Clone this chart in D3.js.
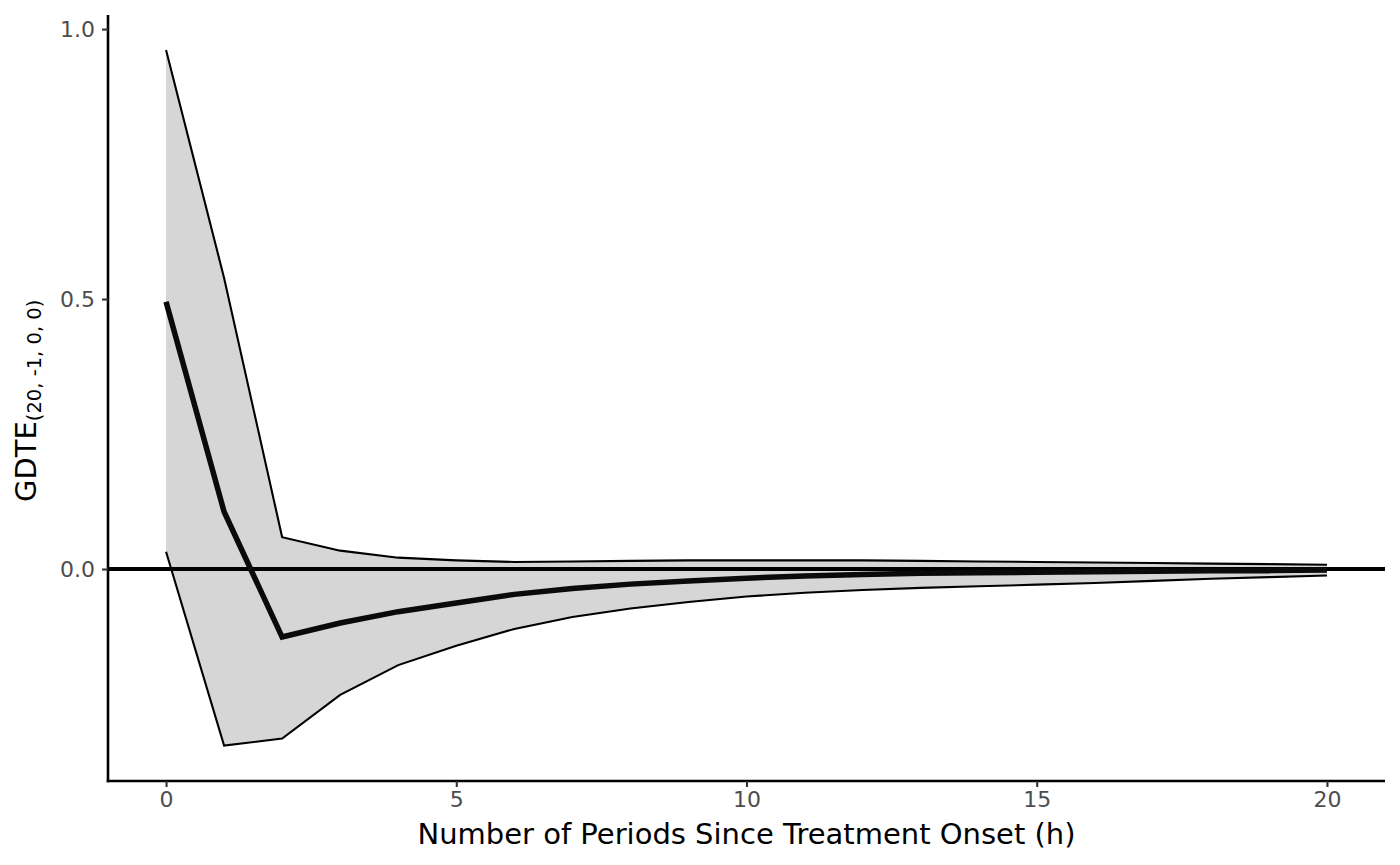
<!DOCTYPE html>
<html><head><meta charset="utf-8">
<script src="https://cdn.jsdelivr.net/npm/d3@7"></script>
<style>body{margin:0;background:#fff}svg{display:block}text{font-family:"DejaVu Sans",sans-serif}</style>
</head><body><svg id="c" width="1400" height="865"></svg>
<script>
const horizon = d3.range(0, 21);
const upper = [0.961, 0.539, 0.059, 0.034, 0.021, 0.016, 0.013, 0.014, 0.015, 0.016, 0.016, 0.016, 0.016, 0.015, 0.014, 0.013, 0.012, 0.011, 0.010, 0.009, 0.008];
const estimate = [0.495, 0.106, -0.126, -0.100, -0.079, -0.063, -0.047, -0.036, -0.028, -0.022, -0.017, -0.013, -0.010, -0.008, -0.007, -0.006, -0.005, -0.004, -0.003, -0.003, -0.002];
const lower = [0.032, -0.327, -0.314, -0.233, -0.178, -0.142, -0.111, -0.089, -0.073, -0.061, -0.051, -0.044, -0.039, -0.035, -0.032, -0.029, -0.026, -0.022, -0.018, -0.015, -0.012];
const xTicks = [0, 5, 10, 15, 20];
const yTicks = [0.0, 0.5, 1.0];

const svg = d3.select("#c");
const L = 108, R = 1385, T = 15, B = 781;
const x = d3.scaleLinear().domain([-1, 21]).range([L, R]);
const y = d3.scaleLinear().domain([-0.3926, 1.026]).range([B, T]);
const data = horizon.map((h, i) => ({h, u: upper[i], m: estimate[i], l: lower[i]}));

svg.append("path").datum(data)
  .attr("d", d3.area().x(d => x(d.h)).y0(d => y(d.l)).y1(d => y(d.u)))
  .attr("fill", "#d6d6d6");

const line = key => d3.line().x(d => x(d.h)).y(d => y(d[key]));
svg.append("path").datum(data).attr("d", line("u")).attr("fill", "none").attr("stroke", "#000").attr("stroke-width", 2.1);
svg.append("path").datum(data).attr("d", line("l")).attr("fill", "none").attr("stroke", "#000").attr("stroke-width", 2.1);
svg.append("line").attr("x1", L).attr("x2", R).attr("y1", y(0)).attr("y2", y(0))
  .attr("stroke", "#000").attr("stroke-width", 4);
svg.append("path").datum(data).attr("d", line("m")).attr("fill", "none").attr("stroke", "#0a0a0a").attr("stroke-width", 5.5).attr("stroke-linejoin", "miter");

// axes
const gx = svg.append("g").attr("transform", `translate(0,${B})`)
  .call(d3.axisBottom(x).tickValues(xTicks).tickSize(6).tickPadding(4.5).tickFormat(d3.format("d")));
const gy = svg.append("g").attr("transform", `translate(${L},0)`)
  .call(d3.axisLeft(y).tickValues(yTicks).tickSize(6).tickPadding(7).tickFormat(d3.format(".1f")));
[gx, gy].forEach(g => {
  g.attr("font-size", null).attr("font-family", null);
  g.select(".domain").attr("stroke", "#000").attr("stroke-width", 2.6);
  g.selectAll(".tick line").attr("stroke", "#333").attr("stroke-width", 2.1);
  g.selectAll(".tick text").attr("fill", "#4d4d4d").attr("font-size", 22).attr("font-family", "DejaVu Sans");
});
gx.select(".domain").attr("d", `M${L - 1.3},0H${R}`);
gy.select(".domain").attr("d", `M0,${B + 1.3}V${T}`);

svg.append("text").attr("x", (L + R) / 2).attr("y", 844).attr("text-anchor", "middle")
  .attr("font-size", 29).attr("fill", "#000").text("Number of Periods Since Treatment Onset (h)");

const yt = svg.append("text").attr("transform", `translate(35.5,502) rotate(-90)`)
  .attr("text-anchor", "start").attr("fill", "#000").attr("font-size", 29);
yt.append("tspan").text("GDTE");
yt.append("tspan").attr("dy", 5).attr("font-size", 19.5).text("(20, -1, 0, 0)");
</script></body></html>
